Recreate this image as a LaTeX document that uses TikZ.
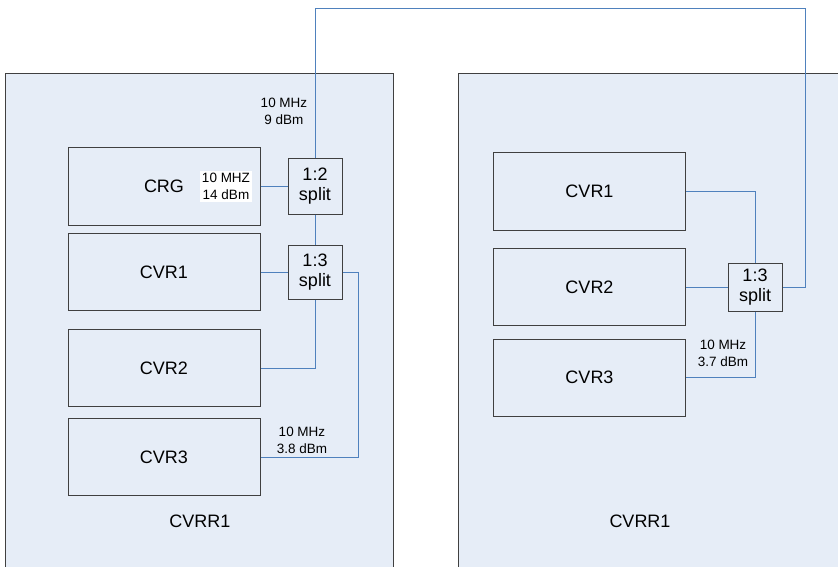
\documentclass[tikz,border=0pt]{standalone}
\usepackage{fontspec}
\setmainfont{Liberation Sans}
\definecolor{panelfill}{HTML}{E6EDF7}
\definecolor{wireblue}{HTML}{4F81BD}
\definecolor{edgegray}{HTML}{404040}
\begin{document}
\begin{tikzpicture}[x=1pt,y=-1pt,
  rack/.style={draw=edgegray, line width=1pt, fill=panelfill},
  unit/.style={draw=edgegray, line width=1pt, minimum width=192pt, minimum height=77pt, inner sep=0pt, font=\fontsize{18}{20}\selectfont},
  splitter/.style={draw=edgegray, line width=1pt, fill=panelfill, minimum width=54pt, inner sep=0pt, align=center, font=\fontsize{18}{20}\selectfont},
  wire/.style={draw=wireblue, line width=1pt},
  note/.style={align=center, inner sep=1pt, font=\fontsize{13.5}{17}\selectfont}]
\useasboundingbox (0,0) rectangle (838,567);
\clip (0,0) rectangle (838,567);
% racks
\draw[rack] (5,74) rectangle (393,600);
\draw[rack] (458,74) rectangle (870,600);
\node[font=\fontsize{18}{20}\selectfont] (lrack) at (200,521) {CVRR1};
\node[font=\fontsize{18}{20}\selectfont] (rrack) at (640,521) {CVRR1};
% left rack
\node[unit] (crg) at (164,186.5) {CRG};
\node[unit] (lcvr1) at (164,272) {CVR1};
\node[unit] (lcvr2) at (164,368) {CVR2};
\node[unit] (lcvr3) at (164,457) {CVR3};
\node[splitter, minimum height=55pt] (lsplitA) at (315,186.5) {1:2\\split};
\node[splitter, minimum height=54pt] (lsplitB) at (315,272) {1:3\\split};
\node[note, fill=white, inner sep=2pt] (crgout) at (226,186.5) {10 MHZ\\14 dBm};
\node[note] (lin) at (284,111) {10 MHz\\9 dBm};
\node[note] (lout) at (302,440.5) {10 MHz\\3.8 dBm};
% right rack
\node[unit] (rcvr1) at (589.5,191.5) {CVR1};
\node[unit] (rcvr2) at (589.5,287) {CVR2};
\node[unit] (rcvr3) at (589.5,377.5) {CVR3};
\node[splitter, minimum height=48pt] (rsplit) at (755,287) {1:3\\split};
\node[note] (rout) at (723,353.5) {10 MHz\\3.7 dBm};
% cabling
\coordinate (ltop) at (315,9);
\coordinate (rtop) at (805,9);
\coordinate (lturn) at (358,0);
\path[wire] (crg.east) -- (lsplitA.west);
\path[wire] (lsplitA.south) -- (lsplitB.north);
\path[wire] (lcvr1.east) -- (lsplitB.west);
\path[wire] (lsplitB.south) |- (lcvr2.east);
\path[wire] (lsplitB.east) -| (lturn |- lcvr3.east) -- (lcvr3.east);
\path[wire] (lsplitA.north) -- (ltop) -- (rtop) |- (rsplit.east);
\path[wire] (rsplit.north) |- (rcvr1.east);
\path[wire] (rcvr2.east) -- (rsplit.west);
\path[wire] (rsplit.south) |- (rcvr3.east);
\end{tikzpicture}
\end{document}
